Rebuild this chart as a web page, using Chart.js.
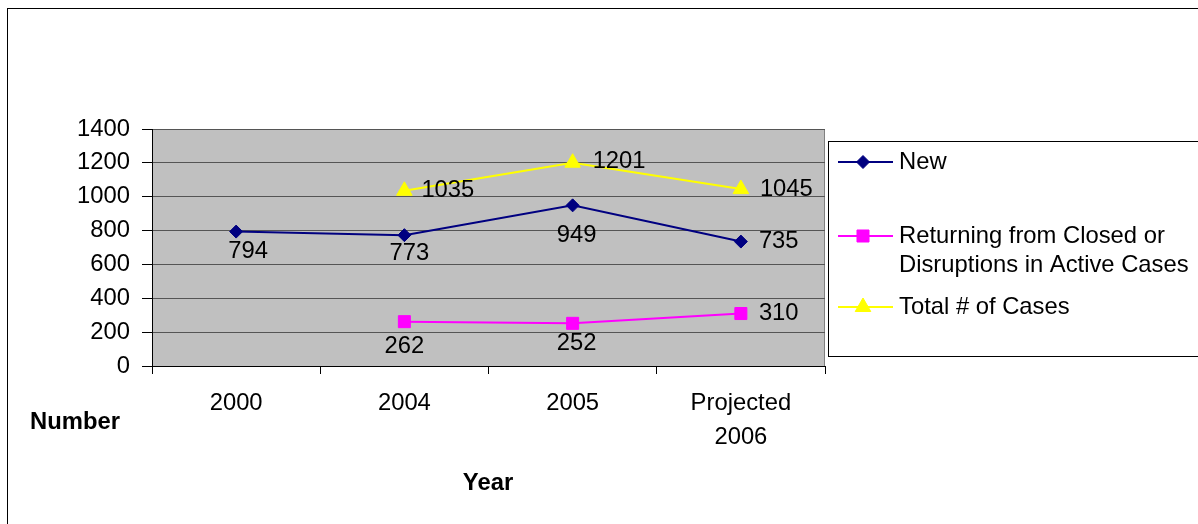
<!DOCTYPE html>
<html>
<head>
<meta charset="utf-8">
<script src="https://cdn.jsdelivr.net/npm/chart.js@4.4.1/dist/chart.umd.min.js"></script>
<style>
  html, body { margin: 0; padding: 0; background: #fff; }
  #chart { display: block; }
</style>
</head>
<body>
<canvas id="chart" width="1198" height="524"></canvas>
<script>
const years = ['2000', '2004', '2005', ['Projected', '2006']];
const newCases = [794, 773, 949, 735];
const returningCases = [null, 262, 252, 310];
const totalCases = [null, 1035, 1201, 1045];

// value label offsets from each point: [dx, dy, align]
const newSpots = [[12, 20, 'center'], [5, 18, 'center'], [4, 30, 'center'], [18, 0, 'left']];
const returningSpots = [null, [0, 25, 'center'], [4, 20, 'center'], [18, 0, 'left']];
const totalSpots = [null, [17, 0, 'left'], [20, -1, 'left'], [19, 0, 'left']];

const FONT = "'Liberation Sans', Arial, sans-serif";
const SIZE = 23.8;

const plotFrame = {
  id: 'plotFrame',
  beforeDraw(chart) {
    const {ctx, chartArea: a} = chart;
    ctx.save();
    ctx.fillStyle = '#fff';
    ctx.fillRect(0, 0, chart.width, chart.height);
    // outer frame
    ctx.strokeStyle = '#000';
    ctx.lineWidth = 1;
    ctx.strokeRect(7.5, 8.5, 1300, 600);
    ctx.fillStyle = '#C0C0C0';
    ctx.fillRect(a.left, a.top, a.right - a.left, a.bottom - a.top);
    ctx.strokeStyle = '#808080';
    ctx.beginPath();
    ctx.moveTo(a.left, a.top + 0.5);
    ctx.lineTo(a.right - 0.5, a.top + 0.5);
    ctx.lineTo(a.right - 0.5, a.bottom);
    ctx.stroke();
    ctx.restore();
  }
};

const valueLabels = {
  id: 'valueLabels',
  afterDatasetsDraw(chart) {
    const {ctx} = chart;
    ctx.save();
    ctx.font = SIZE + 'px ' + FONT;
    ctx.fillStyle = '#000';
    ctx.textBaseline = 'middle';
    chart.data.datasets.forEach((ds, i) => {
      const meta = chart.getDatasetMeta(i);
      meta.data.forEach((pt, j) => {
        const v = ds.data[j];
        const spot = ds.spots[j];
        if (v == null || !spot) return;
        ctx.textAlign = spot[2];
        ctx.fillText(String(v), pt.x + spot[0], pt.y + spot[1]);
      });
    });
    ctx.restore();
  }
};

const sideLegend = {
  id: 'sideLegend',
  afterDraw(chart) {
    const {ctx} = chart;
    ctx.save();
    ctx.strokeStyle = '#000';
    ctx.lineWidth = 1;
    ctx.strokeRect(828.5, 141.5, 400, 215);
    ctx.font = SIZE + 'px ' + FONT;
    ctx.textAlign = 'left';
    ctx.textBaseline = 'middle';
    const rows = [
      {ds: 0, y: 162, lines: ['New']},
      {ds: 1, y: 236, lines: ['Returning from Closed or', 'Disruptions in Active Cases']},
      {ds: 2, y: 307, lines: ['Total # of Cases']}
    ];
    rows.forEach(r => {
      const ds = chart.data.datasets[r.ds];
      ctx.strokeStyle = ds.borderColor;
      ctx.lineWidth = 2;
      ctx.beginPath();
      ctx.moveTo(838, r.y);
      ctx.lineTo(893, r.y);
      ctx.stroke();
      ctx.fillStyle = ds.backgroundColor;
      ctx.lineWidth = 1;
      Chart.helpers.drawPoint(ctx, {pointStyle: ds.pointStyle, radius: ds.pointRadius, rotation: 0, borderWidth: 1}, 863, r.y);
      ctx.fillStyle = '#000';
      r.lines.forEach((t, k) => ctx.fillText(t, 899, r.y + k * 29));
    });
    ctx.restore();
  }
};

const axisNames = {
  id: 'axisNames',
  afterDraw(chart) {
    const {ctx} = chart;
    ctx.save();
    ctx.font = 'bold ' + SIZE + 'px ' + FONT;
    ctx.fillStyle = '#000';
    ctx.textBaseline = 'middle';
    ctx.textAlign = 'left';
    ctx.fillText('Number', 30, 422);
    ctx.textAlign = 'center';
    ctx.fillText('Year', 488, 483);
    ctx.restore();
  }
};

new Chart(document.getElementById('chart'), {
  type: 'line',
  data: {
    labels: years,
    datasets: [
      {
        label: 'New',
        data: newCases,
        spots: newSpots,
        borderColor: '#000080',
        backgroundColor: '#000080',
        borderWidth: 2,
        pointStyle: 'rectRot',
        pointRadius: 6.5,
        pointBorderWidth: 1
      },
      {
        label: 'Returning from Closed or Disruptions in Active Cases',
        data: returningCases,
        spots: returningSpots,
        borderColor: '#FF00FF',
        backgroundColor: '#FF00FF',
        borderWidth: 2,
        pointStyle: 'rect',
        pointRadius: 8.5,
        pointBorderWidth: 1
      },
      {
        label: 'Total # of Cases',
        data: totalCases,
        spots: totalSpots,
        borderColor: '#FFFF00',
        backgroundColor: '#FFFF00',
        borderWidth: 2,
        pointStyle: 'triangle',
        pointRadius: 9,
        pointBorderWidth: 1
      }
    ]
  },
  options: {
    responsive: false,
    animation: false,
    layout: { padding: { top: 129, right: 373, left: 0, bottom: 0 } },
    plugins: {
      legend: { display: false },
      tooltip: { enabled: false }
    },
    scales: {
      x: {
        offset: true,
        grid: { offset: true, drawOnChartArea: false, drawTicks: true, tickLength: 8, tickColor: '#000' },
        border: { color: '#000', width: 1 },
        ticks: {
          color: '#000',
          font: { family: FONT, size: SIZE, lineHeight: 1.45 },
          padding: 12,
          maxRotation: 0,
          autoSkip: false
        },
        afterFit(s) { s.height = 158; }
      },
      y: {
        min: 0,
        max: 1400,
        ticks: {
          stepSize: 200,
          color: '#000',
          font: { family: FONT, size: SIZE },
          padding: 12,
          callback: v => String(v)
        },
        grid: { color: '#555', tickColor: '#000', tickLength: 10 },
        border: { color: '#000', width: 1 },
        afterFit(s) { s.width = 152; }
      }
    }
  },
  plugins: [plotFrame, valueLabels, sideLegend, axisNames]
});
</script>
</body>
</html>
